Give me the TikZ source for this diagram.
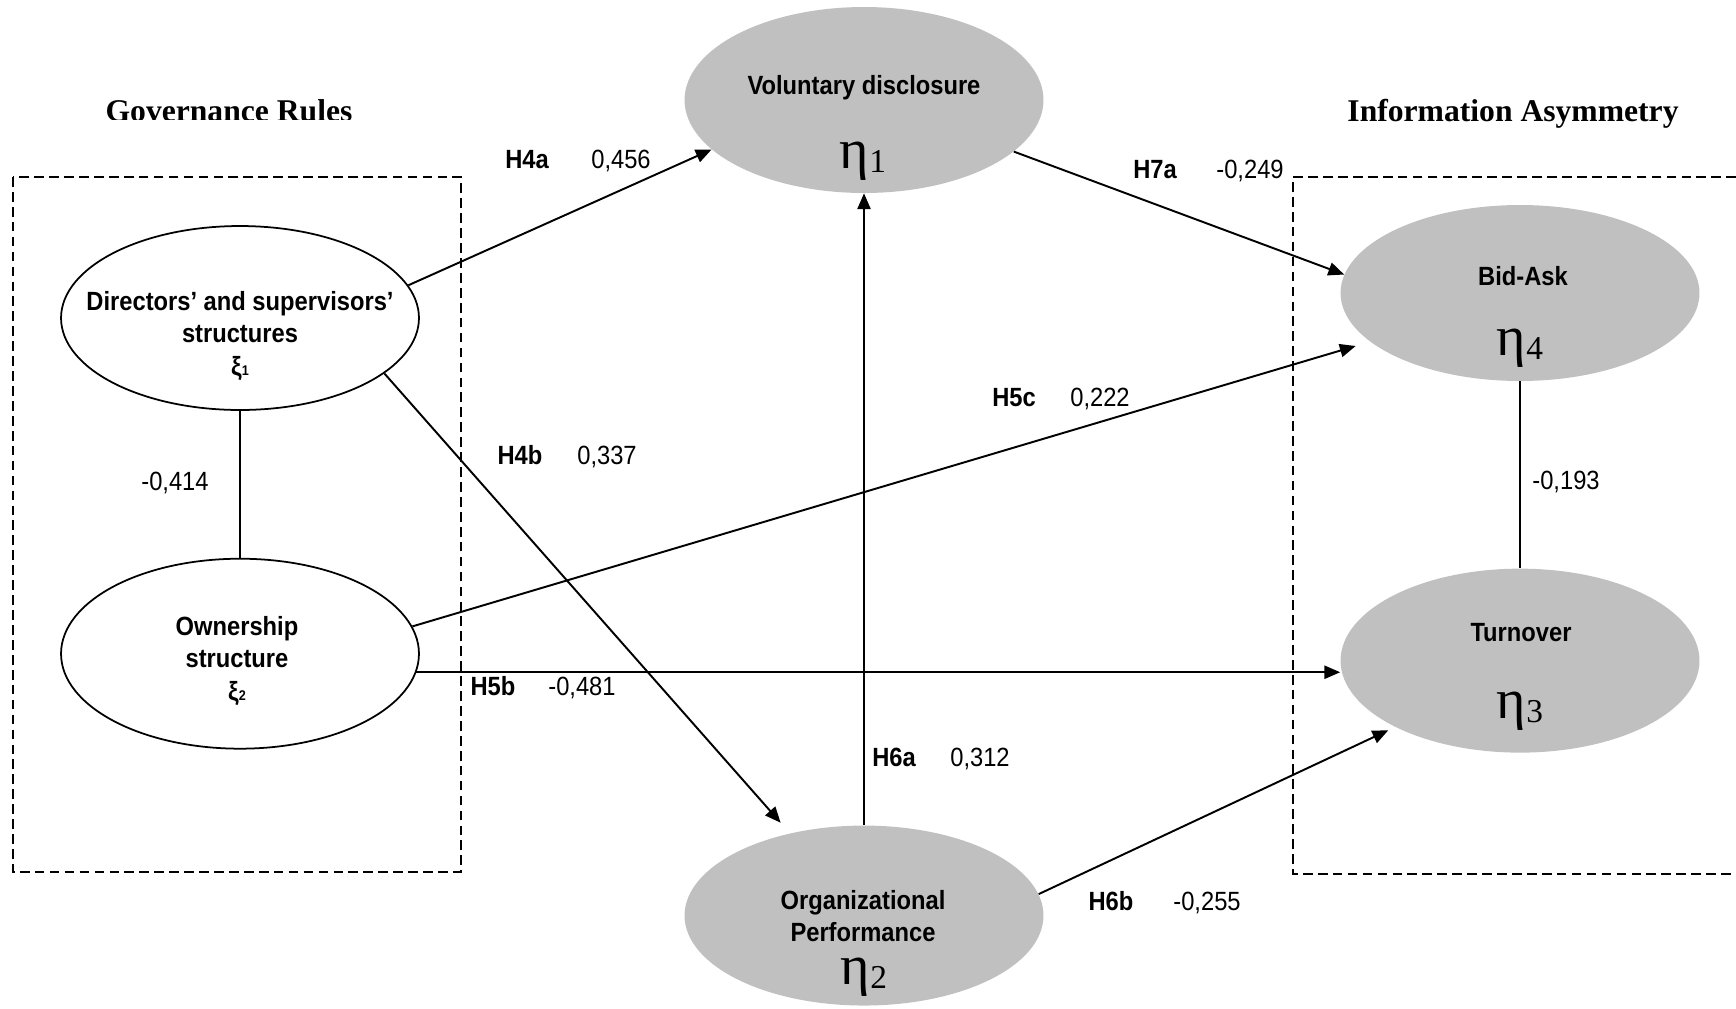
\documentclass[tikz,border=0pt]{standalone}
\usepackage{fontspec}
\setmainfont{Liberation Sans}[FakeStretch=0.9]
\newfontfamily\timesfont{Liberation Serif}
\usetikzlibrary{arrows.meta, positioning, shapes.geometric}

\definecolor{latentgray}{RGB}{192,192,192}

\newcommand{\etalbl}[1]{{\timesfont\fontsize{32}{34}\selectfont η}{\timesfont\fontsize{19}{20}\selectfont\raisebox{-2.5pt}{#1}}}
\newcommand{\xilbl}[1]{{\fontsize{15}{17}\selectfont ξ}{\fontsize{8}{9}\selectfont #1}}

\begin{document}
\begin{tikzpicture}[
    x=0.02cm, y=-0.02cm,
    node distance=1cm,
    exo/.style={ellipse, draw, line width=1pt, fill=white, minimum width=7.16cm, inner sep=0pt},
    endo/.style={ellipse, fill=latentgray, minimum width=7.18cm, inner sep=0pt},
    vartext/.style={font=\bfseries\fontsize{15}{18.7}\selectfont, inner sep=0pt},
    greek/.style={font=\timesfont, inner sep=0pt, anchor=base},
    hyp/.style={font=\bfseries\fontsize{15}{18}\selectfont, inner sep=0pt, anchor=base},
    coef/.style={font=\fontsize{15}{18}\selectfont, inner sep=0pt, anchor=base},
    heading/.style={font=\timesfont\bfseries\fontsize{18}{20}\selectfont, inner sep=0pt, anchor=base},
    groupbox/.style={draw, line width=0.9pt, dash pattern=on 5.5pt off 3pt},
    effect/.style={-{Triangle[length=9pt, width=7.5pt]}, line width=1.1pt},
    corr/.style={line width=1.1pt}
]
\useasboundingbox (0,0) rectangle (1736,1008);

% Headings
\begin{scope}
    \clip (0,0) rectangle (480,119);
    \node[heading] (gov) at (229,121) {Governance Rules};
\end{scope}
\node[heading] (infoasym) at (1513,121) {Information Asymmetry};

% Group boxes
\draw[groupbox] (13,177) rectangle (461,872);
\draw[groupbox] (1736,177) -| (1293,874) -- (1736,874);

% Governance variables (left)
\node[exo, minimum height=3.68cm] (dir) at (240,318) {};
\node[exo, minimum height=3.8cm, below=2.94cm of dir] (own) {};
\node[vartext, align=center] (dir-t) at (240,336) {Directors’ and supervisors’\\structures\\\xilbl{1}};
\node[vartext, align=center] (own-t) at (237,661) {Ownership\\structure\\\xilbl{2}};

% Mediators (centre)
\node[endo, minimum height=3.72cm] (vol) at (864,100) {};
\node[endo, minimum height=3.6cm, below=12.64cm of vol] (org) {};
\node[vartext, anchor=base] (vol-t) at (864,94) {Voluntary disclosure};
\node[greek] (vol-e) at (863,168) {\etalbl{1}};
\node[vartext, align=center] (org-t) at (863,916) {Organizational\\Performance};
\node[greek] (org-e) at (864,984) {\etalbl{2}};

% Information asymmetry (right)
\node[endo, minimum height=3.52cm] (bid) at (1520,293) {};
\node[endo, minimum height=3.68cm, below=3.74cm of bid] (turn) {};
\node[vartext, anchor=base] (bid-t) at (1523,285) {Bid-Ask};
\node[greek] (bid-e) at (1520,355) {\etalbl{4}};
\node[vartext, anchor=base] (turn-t) at (1521,641) {Turnover};
\node[greek] (turn-e) at (1520,718) {\etalbl{3}};

% Paths
\draw[effect] (dir.11) -- (vol.198);
\draw[effect, shorten >=0.28cm] (dir.-21) -- (org.132);
\draw[effect] (vol.-19) -- (bid.174);
\draw[effect, shorten >=0.3cm] (own.9) -- (bid.198);
\draw[effect] (own.-6) -- (own.-6 -| turn.west);
\draw[effect] (org) -- (vol);
\draw[effect, shorten >=0.15cm] (org.7) -- (turn.208);

% Correlations
\draw[corr] (dir) -- (own);
\draw[corr] (bid) -- (turn);

% Coefficients
\node[hyp] (h4a) at (527,168) {H4a};
\node[coef] (c4a) at (621,168) {0,456};
\node[hyp] (h4b) at (520,464) {H4b};
\node[coef] (c4b) at (607,464) {0,337};
\node[hyp] (h7a) at (1155,178) {H7a};
\node[coef] (c7a) at (1250,178) {-0,249};
\node[hyp] (h5c) at (1014,406) {H5c};
\node[coef] (c5c) at (1100,406) {0,222};
\node[hyp] (h5b) at (493,695) {H5b};
\node[coef] (c5b) at (582,695) {-0,481};
\node[hyp] (h6a) at (894,766) {H6a};
\node[coef] (c6a) at (980,766) {0,312};
\node[hyp] (h6b) at (1111,910) {H6b};
\node[coef] (c6b) at (1207,910) {-0,255};
\node[coef] (r12) at (175,490) {-0,414};
\node[coef] (r34) at (1566,489) {-0,193};

\end{tikzpicture}
\end{document}
